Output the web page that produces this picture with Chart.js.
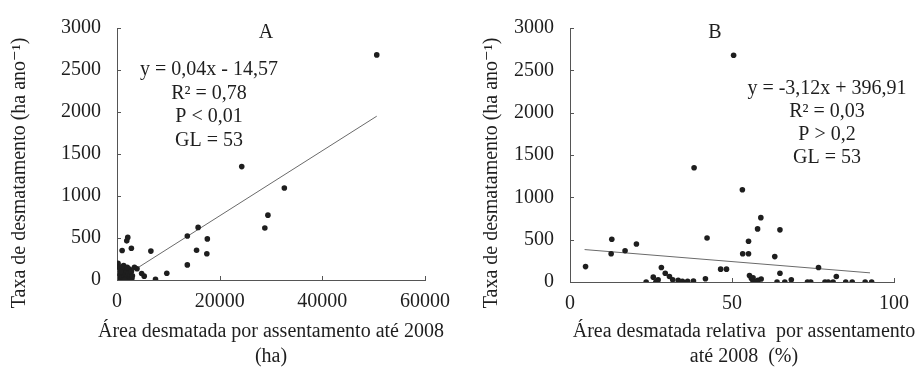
<!DOCTYPE html>
<html>
<head>
<meta charset="utf-8">
<script src="https://cdn.jsdelivr.net/npm/chart.js@4.4.1/dist/chart.umd.min.js"></script>
<style>
    body { margin: 0; background: #fff; }
    #wrap { position: relative; width: 919px; height: 370px; }
    .panel { position: absolute; top: 0; height: 370px; }
    #panelA { left: 0; width: 460px; }
    #panelB { left: 460px; width: 459px; }
</style>
</head>
<body>
<div id="wrap">
    <div class="panel" id="panelA"><canvas id="chartA"></canvas></div>
    <div class="panel" id="panelB"><canvas id="chartB"></canvas></div>
</div>
<script>
// Panel A - deforested area (ha) vs deforestation rate
const areaA = [50600, 24300, 32600, 29400, 28800, 15800, 13700, 17600, 15500, 17500,
    13700, 9700, 7500, 6600, 5300, 4800, 3900, 3400, 2800, 2100,
    1900, 1000, 200, 1300,
    300, 500, 600, 800, 900, 1000, 1100, 1200, 1300, 1400,
    1500, 1600, 1700, 1800, 1900, 2000, 2100, 2200, 2300, 2400,
    2500, 2600, 2700, 2800, 2900, 3000, 400, 700, 1000, 2000, 1500];
const rateA = [2680, 1350, 1096, 772, 619, 626, 523, 489, 355, 313,
    180, 80, 8, 344, 46, 77, 134, 152, 378, 507,
    466, 352, 198, 172,
    10, 0, 60, 20, 120, 5, 40, 90, 0, 30,
    140, 10, 70, 0, 100, 45, 15, 80, 0, 130,
    30, 60, 5, 100, 20, 50, 150, 100, 160, 150, 0];
const trendAx = [3000, 50600];
const trendAy = [105, 1950];

// Panel B - relative deforested area (%) vs deforestation rate
const areaB = [4.8, 12.9, 12.7, 17.0, 20.5, 23.5, 25.7, 26.5, 27.2, 28.2,
    29.4, 30.7, 31.7, 33.4, 34.7, 36.3, 38.1, 38.3, 41.8, 42.3,
    46.5, 48.3, 50.5, 53.2, 53.3, 55.1, 55.1, 57.9, 58.9, 64.8,
    63.2, 55.4, 56.0, 56.5, 57.0, 58.0, 59.0, 64.8, 63.9, 66.3,
    68.3, 73.3, 74.3, 76.7, 78.7, 79.7, 81.2, 82.2, 85.1, 87.1,
    91.1, 93.1, 56.5, 57.5, 27.0];
const rateB = [182, 505, 334, 369, 448, 0, 57, 0, 27, 171,
    103, 65, 27, 19, 8, 8, 11, 1349, 38, 520,
    152, 152, 2679, 1090, 334, 334, 482, 627, 760, 616,
    300, 76, 40, 10, 0, 20, 35, 103, 0, 0,
    27, 0, 0, 171, 0, 0, 0, 65, 0, 0,
    0, 0, 50, 5, 10];
const trendBx = [4.5, 92.6];
const trendBy = [383, 108];

const yTicks = [0, 500, 1000, 1500, 2000, 2500, 3000];
const xTicksA = [0, 20000, 40000, 60000];
const xTicksB = [0, 50, 100];

const notesA = ['A', 'y = 0,04x - 14,57', 'R² = 0,78', 'P < 0,01', 'GL = 53'];
const notesB = ['B', 'y = -3,12x + 396,91', 'R² = 0,03', 'P > 0,2', 'GL = 53'];
const yTitle = 'Taxa de desmatamento (ha ano⁻¹)';
const xTitleA = ['Área desmatada por assentamento até 2008', '(ha)'];
const xTitleB = ['Área desmatada relativa  por assentamento', 'até 2008  (%)'];

const ink = '#1e1e1e';
const axisColor = '#555';
const serif = '"Liberation Serif", "DejaVu Serif", serif';
const fontSize = 20;

// Small tick marks drawn inward on both axes
const inwardTicks = {
    id: 'inwardTicks',
    afterDraw(chart) {
        const { ctx, chartArea, scales } = chart;
        ctx.save();
        ctx.strokeStyle = axisColor;
        ctx.lineWidth = 1;
        ctx.beginPath();
        scales.x.ticks.forEach(t => {
            const px = Math.round(scales.x.getPixelForValue(t.value)) + 0.5;
            ctx.moveTo(px, chartArea.bottom);
            ctx.lineTo(px, chartArea.bottom - 4);
        });
        scales.y.ticks.forEach(t => {
            const py = Math.round(scales.y.getPixelForValue(t.value)) + 0.5;
            ctx.moveTo(chartArea.left, py);
            ctx.lineTo(chartArea.left + 4, py);
        });
        ctx.stroke();
        ctx.restore();
    }
};

// Free text: panel letter, regression notes and axis titles
const textNotes = {
    id: 'textNotes',
    afterDraw(chart, args, opts) {
        const ctx = chart.ctx;
        ctx.save();
        ctx.fillStyle = ink;
        ctx.textAlign = 'center';
        ctx.textBaseline = 'middle';
        (opts.items || []).forEach(item => {
            ctx.font = item.size + 'px ' + serif;
            ctx.save();
            ctx.translate(item.x, item.y);
            if (item.rotate) ctx.rotate(-Math.PI / 2);
            ctx.fillText(item.text, 0, 0);
            ctx.restore();
        });
        ctx.restore();
    }
};

function buildChart(canvasId, cfg) {
    const canvas = document.getElementById(canvasId);
    canvas.width = cfg.width;
    canvas.height = 370;
    canvas.style.width = cfg.width + 'px';
    canvas.style.height = '370px';

    const points = cfg.xs.map((x, i) => ({ x: x, y: cfg.ys[i] }));
    const trend = cfg.tx.map((x, i) => ({ x: x, y: cfg.ty[i] }));

    const items = [
        { text: cfg.notes[0], x: cfg.letterX, y: 33, size: fontSize },
        { text: cfg.notes[1], x: cfg.noteX, y: cfg.noteY[0], size: fontSize },
        { text: cfg.notes[2], x: cfg.noteX, y: cfg.noteY[1], size: fontSize },
        { text: cfg.notes[3], x: cfg.noteX, y: cfg.noteY[2], size: fontSize },
        { text: cfg.notes[4], x: cfg.noteX, y: cfg.noteY[3], size: fontSize },
        { text: yTitle, x: cfg.yTitleX, y: 173, size: fontSize, rotate: true },
        { text: cfg.xTitle[0], x: cfg.xTitleX, y: 332, size: fontSize },
        { text: cfg.xTitle[1], x: cfg.xTitleX, y: 357, size: fontSize }
    ];

    return new Chart(canvas.getContext('2d'), {
        type: 'scatter',
        data: {
            datasets: [
                {
                    data: points,
                    backgroundColor: ink,
                    borderWidth: 0,
                    pointRadius: 2.8
                },
                {
                    type: 'line',
                    data: trend,
                    borderColor: '#6a6a6a',
                    borderWidth: 1,
                    pointRadius: 0,
                    fill: false
                }
            ]
        },
        options: {
            responsive: false,
            animation: false,
            events: [],
            layout: { padding: { top: 18, right: cfg.width - cfg.right, left: 0, bottom: 0 } },
            scales: {
                x: {
                    type: 'linear',
                    min: 0,
                    max: cfg.xMax,
                    afterBuildTicks: scale => { scale.ticks = cfg.xTicks.map(v => ({ value: v })); },
                    afterFit: scale => { scale.height = 370 - cfg.bottom; },
                    grid: { display: false, drawTicks: false },
                    border: { display: true, color: axisColor, width: 1 },
                    ticks: {
                        color: ink,
                        padding: 10,
                        maxRotation: 0,
                        font: { family: serif, size: fontSize },
                        callback: v => String(v)
                    }
                },
                y: {
                    type: 'linear',
                    min: 0,
                    max: 3000,
                    afterBuildTicks: scale => { scale.ticks = yTicks.map(v => ({ value: v })); },
                    afterFit: scale => { scale.width = cfg.left; },
                    grid: { display: false, drawTicks: false },
                    border: { display: true, color: axisColor, width: 1 },
                    ticks: {
                        color: ink,
                        padding: 16,
                        font: { family: serif, size: fontSize },
                        callback: v => String(v)
                    }
                }
            },
            plugins: {
                legend: { display: false },
                tooltip: { enabled: false },
                textNotes: { items: items }
            }
        },
        plugins: [inwardTicks, textNotes]
    });
}

buildChart('chartA', {
    width: 460, left: 117, right: 427, bottom: 280,
    xs: areaA, ys: rateA, tx: trendAx, ty: trendAy,
    xMax: 60000, xTicks: xTicksA,
    notes: notesA, letterX: 266, noteX: 209, noteY: [70, 94, 117, 141],
    yTitleX: 20, xTitle: xTitleA, xTitleX: 271
});

buildChart('chartB', {
    width: 459, left: 110, right: 445, bottom: 282,
    xs: areaB, ys: rateB, tx: trendBx, ty: trendBy,
    xMax: 100, xTicks: xTicksB,
    notes: notesB, letterX: 255, noteX: 367, noteY: [89, 112, 135, 158],
    yTitleX: 32, xTitle: xTitleB, xTitleX: 284
});
</script>
</body>
</html>
